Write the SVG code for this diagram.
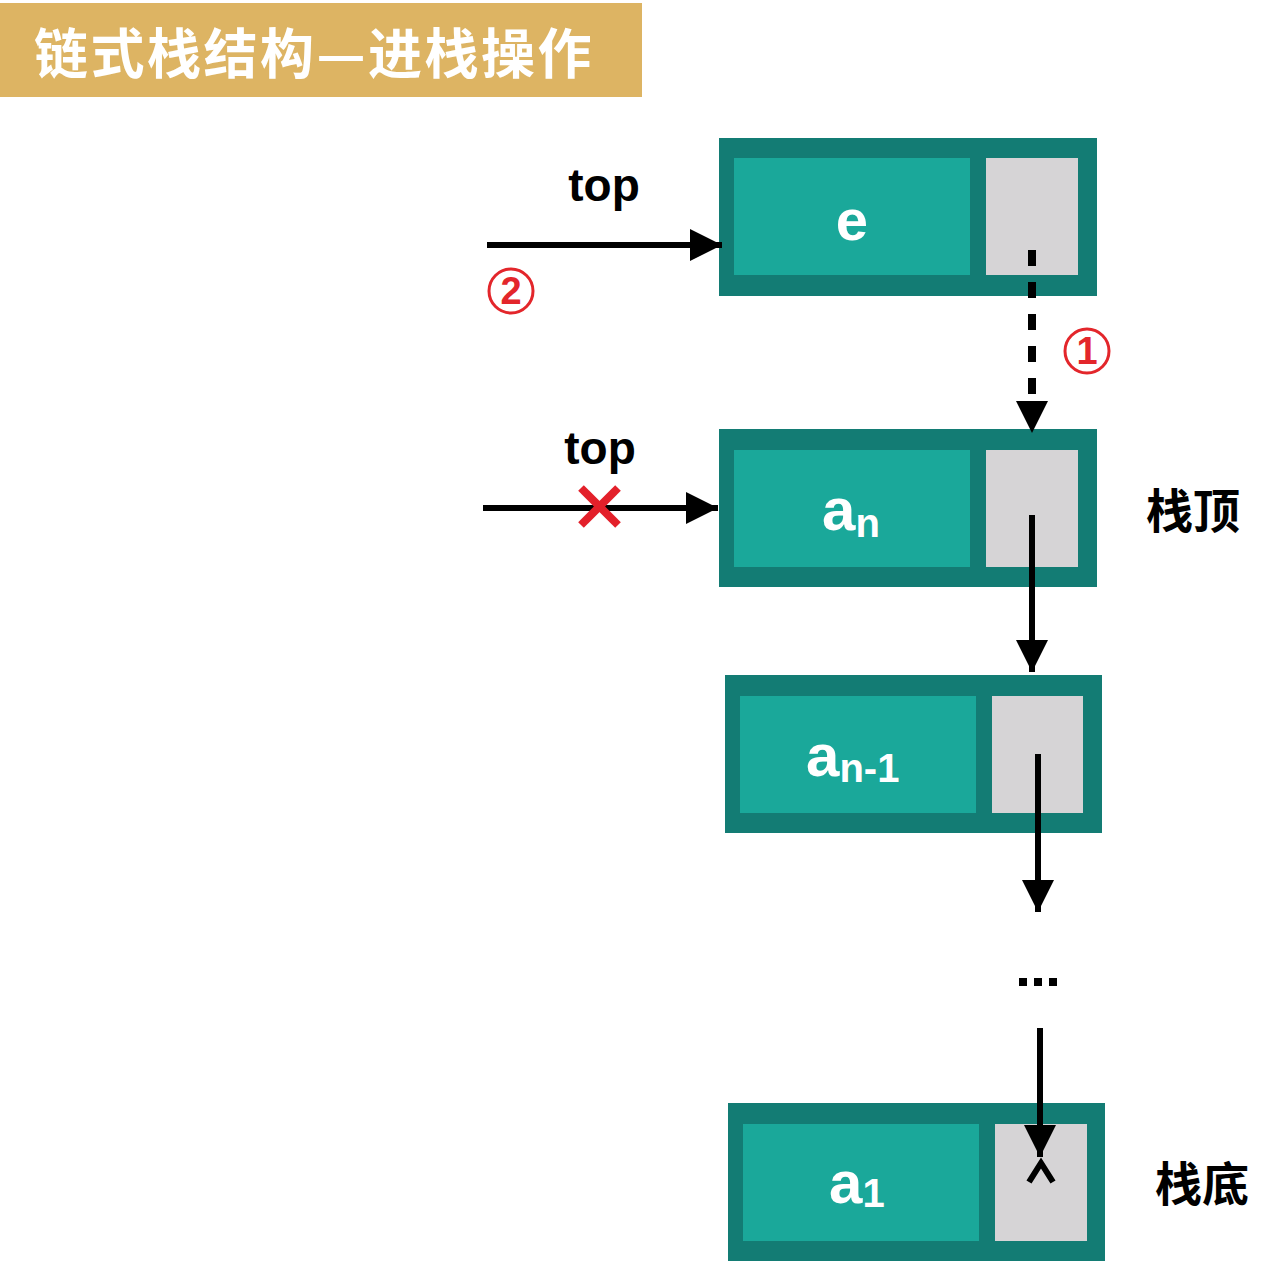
<svg xmlns="http://www.w3.org/2000/svg" width="1274" height="1274" viewBox="0 0 1274 1274">
<defs>
<style>
.outer{fill:#137C74}
.inner{fill:#1AA89A}
.ptr{fill:#D6D4D6}
.lbl{font-family:"Liberation Sans",Arial,sans-serif;font-weight:bold;fill:#fff}
.top{font-family:"Liberation Sans",Arial,sans-serif;font-weight:bold;font-size:46px;fill:#000;text-anchor:middle}
.cjk{font-family:"Noto Sans CJK SC","Liberation Sans",sans-serif;font-weight:bold;font-size:47px;fill:#000}
.line{stroke:#000;stroke-width:6;fill:none}
.num{fill:none;stroke:#E3262B;stroke-width:3}
.numt{font-family:"Liberation Sans",Arial,sans-serif;font-weight:bold;font-size:38px;fill:#E3262B;text-anchor:middle}
</style>
<marker id="ah" viewBox="0 0 10 10" refX="10" refY="5" markerWidth="32" markerHeight="32" markerUnits="userSpaceOnUse" orient="auto">
<path d="M0,0 L10,5 L0,10 Z" fill="#000"/>
</marker>
</defs>
<rect width="1274" height="1274" fill="#fff"/>
<g id="title">
<rect x="0" y="3" width="642" height="94" fill="#DDB463"/>
<text x="34" y="74" font-family="'Noto Sans CJK SC',sans-serif" font-weight="bold" font-size="54" letter-spacing="2.5" fill="#fff">链式栈结构—进栈操作</text>
</g>
<g id="node-e">
<rect class="outer" x="719" y="138" width="378" height="158"/>
<rect class="inner" x="734" y="158" width="236" height="117"/>
<rect class="ptr" x="986" y="158" width="92" height="117"/>
<text class="lbl" x="852" y="240" font-size="58" text-anchor="middle">e</text>
</g>
<g id="node-an">
<rect class="outer" x="719" y="429" width="378" height="158"/>
<rect class="inner" x="734" y="450" width="236" height="117"/>
<rect class="ptr" x="986" y="450" width="92" height="117"/>
<text class="lbl" x="822" y="530" font-size="60">a<tspan font-size="40" dy="7">n</tspan></text>
</g>
<g id="node-an1">
<rect class="outer" x="725" y="675" width="377" height="158"/>
<rect class="inner" x="740" y="696" width="236" height="117"/>
<rect class="ptr" x="992" y="696" width="91" height="117"/>
<text class="lbl" x="806" y="776" font-size="60">a<tspan font-size="40" dy="6">n-1</tspan></text>
</g>
<g id="node-a1">
<rect class="outer" x="728" y="1103" width="377" height="158"/>
<rect class="inner" x="743" y="1124" width="236" height="117"/>
<rect class="ptr" x="995" y="1124" width="92" height="117"/>
<text class="lbl" x="829" y="1203" font-size="60">a<tspan font-size="40" dy="4">1</tspan></text>
<polyline points="1029,1182 1041,1163 1053,1182" fill="none" stroke="#000" stroke-width="6"/>
</g>
<g id="labels">
<text class="top" x="604" y="201">top</text>
<text class="top" x="600" y="464">top</text>
<text class="cjk" x="1146" y="528">栈顶</text>
<text class="cjk" x="1155" y="1201">栈底</text>
<circle class="num" cx="511" cy="291" r="22"/>
<text class="numt" x="511" y="304">2</text>
<circle class="num" cx="1087" cy="351" r="22"/>
<text class="numt" x="1087" y="364">1</text>
<g fill="#000">
<rect x="1019" y="978" width="8" height="8"/>
<rect x="1034" y="978" width="8" height="8"/>
<rect x="1049" y="978" width="8" height="8"/>
</g>
</g>
<g id="connectors">
<line class="line" x1="487" y1="245" x2="722" y2="245" marker-end="url(#ah)"/>
<line class="line" x1="483" y1="508" x2="718" y2="508" marker-end="url(#ah)"/>
<line x1="1032" y1="250" x2="1032" y2="395" stroke="#000" stroke-width="8" stroke-dasharray="16 16"/>
<path d="M1016,401 L1048,401 L1032,433 Z" fill="#000"/>
<line class="line" x1="1032" y1="515" x2="1032" y2="672" marker-end="url(#ah)"/>
<line class="line" x1="1038" y1="754" x2="1038" y2="912" marker-end="url(#ah)"/>
<line class="line" x1="1040" y1="1028" x2="1040" y2="1157" marker-end="url(#ah)"/>
<g stroke="#E3202A" stroke-width="8">
<line x1="581" y1="488" x2="618" y2="525"/>
<line x1="618" y1="488" x2="581" y2="525"/>
</g>
</g>
</svg>
